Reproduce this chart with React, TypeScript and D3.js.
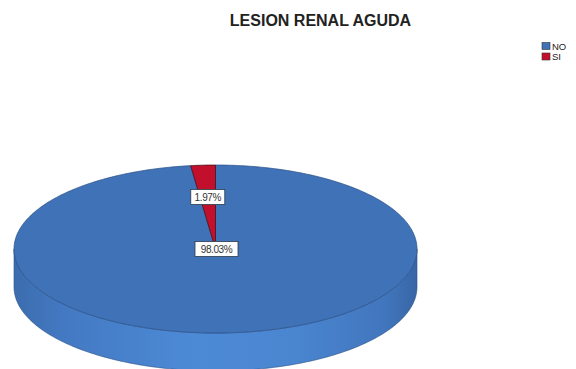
import React from "react";
import * as d3 from "d3";

const title = "LESION RENAL AGUDA";
const categories = ["NO", "SI"];
const percents = [98.03, 1.97];
const labels = ["98.03%", "1.97%"];
const topColors = ["#3f72b6", "#c2102c"];

const W = 576;
const H = 369;

export default function App() {
  const cx = 215.5;
  const cy = 249;
  const rx = 201.5;
  const ry = 84;
  const depth = 38;

  const pie = d3.pie<number>().sort(null).startAngle(0).endAngle(2 * Math.PI);
  const arcs = pie(percents);

  const px = (a: number, r = 1) => cx + rx * r * Math.sin(a);
  const py = (a: number, r = 1, dy = 0) => cy - ry * r * Math.cos(a) + dy;

  const line = d3.line<[number, number]>().x((d) => d[0]).y((d) => d[1]);

  const slicePath = (a0: number, a1: number) => {
    const n = Math.max(4, Math.ceil(((a1 - a0) / (2 * Math.PI)) * 360));
    const pts: [number, number][] = [[cx, cy]];
    d3.range(n + 1).forEach((i) => {
      const a = a0 + ((a1 - a0) * i) / n;
      pts.push([px(a), py(a)]);
    });
    return line(pts) + "Z";
  };

  const sidePath = () => {
    const n = 180;
    const pts: [number, number][] = [];
    d3.range(n + 1).forEach((i) => {
      const a = Math.PI / 2 + (Math.PI * i) / n;
      pts.push([px(a), py(a)]);
    });
    d3.range(n + 1).forEach((i) => {
      const a = (3 * Math.PI) / 2 - (Math.PI * i) / n;
      pts.push([px(a), py(a, 1, depth)]);
    });
    return line(pts) + "Z";
  };

  const labelPos = (d: d3.PieArcDatum<number>, i: number) => {
    const mid = (d.startAngle + d.endAngle) / 2;
    if (i === 0) return [cx + 1, cy];
    return [px(mid, 0.62), py(mid, 0.62)];
  };

  return (
    <svg
      width={W}
      height={H}
      style={{ position: "absolute", left: 0, top: 0, background: "#fff" }}
      fontFamily="Arial, 'Liberation Sans', sans-serif"
    >
      <defs>
        <linearGradient id="sideGrad" x1="0" x2="1" y1="0" y2="0">
          <stop offset="0" stopColor="#3b6cae" />
          <stop offset="0.12" stopColor="#4379c2" />
          <stop offset="0.45" stopColor="#4d8ad6" />
          <stop offset="0.7" stopColor="#4a85d0" />
          <stop offset="0.92" stopColor="#4176bd" />
          <stop offset="1" stopColor="#3866a6" />
        </linearGradient>
      </defs>
      <text
        x={320.5}
        y={26}
        textAnchor="middle"
        fontSize={16}
        fontWeight="bold"
        fill="#222"
      >
        {title}
      </text>

      {categories.map((c, i) => (
        <g key={c} transform={`translate(542, ${42.5 + i * 10.5})`}>
          <rect width={8} height={7} fill={topColors[i]} stroke="#333" strokeWidth={0.6} />
          <text x={10} y={7} fontSize={9.5} fill="#222">
            {c}
          </text>
        </g>
      ))}

      <path d={sidePath()} fill="url(#sideGrad)" stroke="#2c5186" strokeWidth={0.6} />

      {arcs.map((d, i) => (
        <path
          key={i}
          d={slicePath(d.startAngle, d.endAngle)}
          fill={topColors[i]}
          stroke={i === 1 ? "#3a0c14" : "#2a4f85"}
          strokeWidth={0.7}
          strokeLinejoin="round"
        />
      ))}

      {arcs.map((d, i) => {
        const [lx, ly] = labelPos(d, i);
        const w = i === 0 ? 43 : 34;
        const h = 15;
        return (
          <g key={"l" + i} transform={`translate(${lx}, ${ly})`}>
            <rect
              x={-w / 2}
              y={-h / 2}
              width={w}
              height={h}
              fill="#fff"
              stroke="#2b3a4a"
              strokeWidth={0.8}
            />
            <text x={0} y={3.7} textAnchor="middle" fontSize={10} fill="#333" letterSpacing={-0.4}>
              {labels[i]}
            </text>
          </g>
        );
      })}
    </svg>
  );
}
